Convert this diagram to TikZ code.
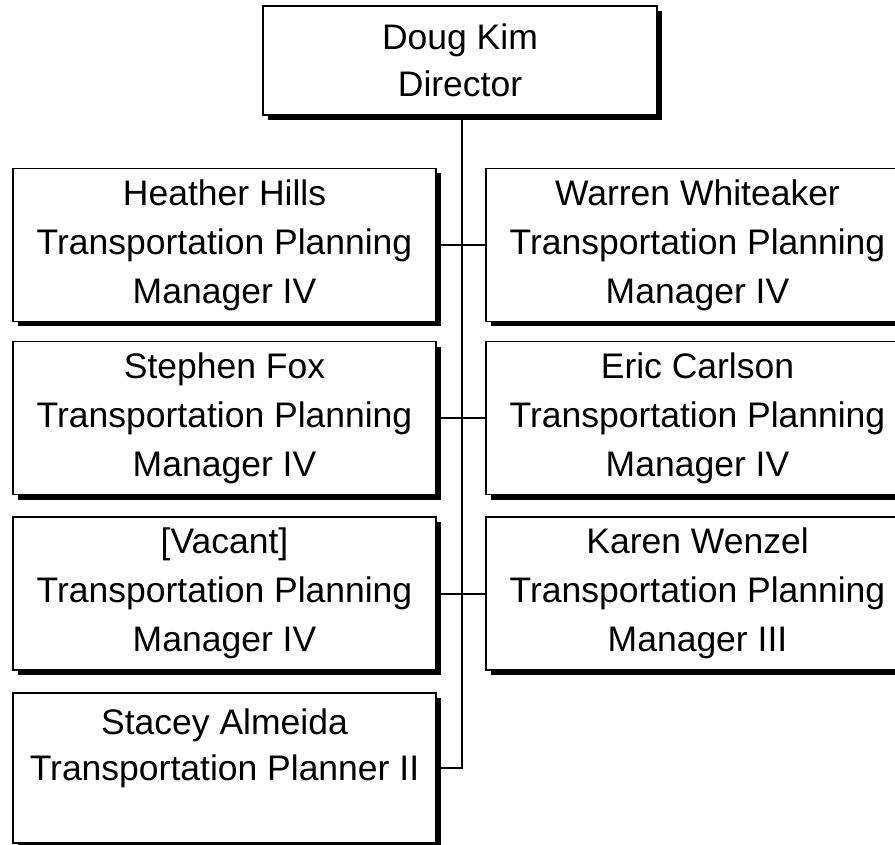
\documentclass[tikz,border=0pt]{standalone}
\usepackage{fontspec}
\setmainfont{Liberation Sans}
\usetikzlibrary{shadows}
\begin{document}
\begin{tikzpicture}[x=1pt,y=1pt,
  orgbox/.style={draw=black, line width=1.8pt, fill=white, inner sep=0pt,
    minimum width=423pt, minimum height=153pt, align=center,
    font=\fontsize{35.5}{49}\selectfont,
    drop shadow={shadow xshift=5pt, shadow yshift=-5pt, fill=black, opacity=1}},
  link/.style={draw=black, line width=2pt}]
\useasboundingbox (0,0) rectangle (895,-845);
\clip (0,0) rectangle (895,-845);
\node[orgbox, minimum width=394pt, minimum height=109pt, font=\fontsize{35.5}{47}\selectfont] (top) at (460,-60.5) {Doug Kim\\Director};
\node[orgbox] (l1) at (224.5,-245) {Heather Hills\\Transportation Planning\\Manager IV};
\node[orgbox] (r1) at (697.5,-245) {Warren Whiteaker\\Transportation Planning\\Manager IV};
\node[orgbox] (l2) at (224.5,-418) {Stephen Fox\\Transportation Planning\\Manager IV};
\node[orgbox] (r2) at (697.5,-418) {Eric Carlson\\Transportation Planning\\Manager IV};
\node[orgbox] (l3) at (224.5,-593.5) {[Vacant]\\Transportation Planning\\Manager IV};
\node[orgbox] (r3) at (697.5,-593.5) {Karen Wenzel\\Transportation Planning\\Manager III};
\node[orgbox, minimum height=150pt, font=\fontsize{35.5}{46}\selectfont] (l4) at (224.5,-768) {Stacey Almeida\\Transportation Planner II\\\mbox{}};
\coordinate (j4) at (462,-768);
\draw[link] (top.south -| j4) -- (j4) -- (l4.east);
\draw[link] (l1.east) -- (r1.west);
\draw[link] (l2.east) -- (r2.west);
\draw[link] (l3.east) -- (r3.west);
\end{tikzpicture}
\end{document}
